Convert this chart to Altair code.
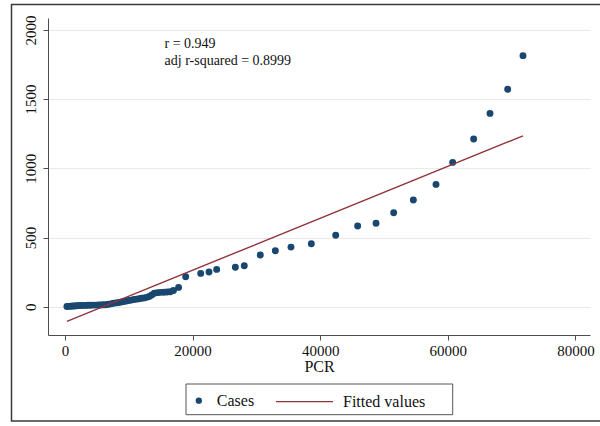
import altair as alt
import pandas as pd

# ---- data ----
pcr = [300, 600, 900, 1200, 1500, 1800, 2100, 2400, 2800, 3200, 3600, 4000, 4400, 4800,
       5200, 5600, 6000, 6400, 6800, 7200, 7600, 8000, 8400, 8800, 9200, 9600, 10000,
       10400, 10800, 11200, 11600, 12000, 12400, 12800, 13200, 13600, 14000, 14500,
       15000, 15500, 16000, 16500, 17000, 17800,
       18918, 21270, 22570, 23770, 26700, 28100, 30610, 32970, 35420, 38610, 42430,
       45870, 48750, 51520, 54600, 58150, 60763, 64054, 66614, 69385, 71787]
cases = [2, 3, 4, 5, 6, 7, 8, 9, 10, 10, 11, 11, 12, 12,
         13, 13, 14, 15, 18, 21, 25, 28, 31, 35, 38, 41, 45,
         48, 52, 55, 58, 61, 64, 68, 74, 85, 98, 102,
         104, 105, 106, 108, 118, 140,
         217, 241, 251, 270, 285, 296, 374, 405, 431, 455, 516,
         583, 603, 679, 771, 884, 1043, 1212, 1397, 1571, 1814]

fit_pcr = [300, 71787]
fit_values = [-105, 1235]

x_ticks = [0, 20000, 40000, 60000, 80000]
y_ticks = [0, 500, 1000, 1500, 2000]

note_lines = ["r = 0.949", "adj r-squared = 0.8999"]
note_x = [15600, 15600]
note_y = [1900, 1775]

FONT = "Liberation Serif"
NAVY = "#1a476f"
MAROON = "#90353b"
AXIS = "#4d4d4d"

pts = pd.DataFrame({"PCR": pcr, "Cases": cases, "series": ["Cases"] * len(pcr)})
fit = pd.DataFrame({"PCR": fit_pcr, "fitted": fit_values, "series": ["Fitted values"] * 2})
notes = pd.DataFrame({"x": note_x, "y": note_y, "t": note_lines})
one = pd.DataFrame({"a": [0]})

xscale = alt.Scale(domain=[-2665, 82288], nice=False, zero=False)
yscale = alt.Scale(domain=[-204, 2086], nice=False, zero=False)

xaxis = alt.Axis(values=x_ticks, format="d", title="PCR", grid=False, tickSize=5,
                 labelPadding=3, titlePadding=0, labelFontSize=15, titleFontSize=16,
                 titleFontWeight="normal", labelFont=FONT, titleFont=FONT,
                 labelColor="#111111", titleColor="#111111",
                 domainColor=AXIS, tickColor=AXIS, labelFlush=False)
yaxis = alt.Axis(values=y_ticks, format="d", title=None, grid=True, gridColor="#e9e9e9",
                 gridWidth=1, tickSize=5, labelAngle=270, labelAlign="center",
                 labelBaseline="bottom", labelPadding=5, labelFontSize=15, labelFont=FONT,
                 labelColor="#111111", domainColor=AXIS, tickColor=AXIS)

frame = alt.Chart(one).mark_rect(fill="transparent", stroke="#3a3a3a", strokeWidth=1.5).encode(
    x=alt.value(-36.5), x2=alt.value(600), y=alt.value(-13.4), y2=alt.value(403)
)
legend_box = alt.Chart(one).mark_rect(fill="white", stroke="#555555", strokeWidth=1).encode(
    x=alt.value(138), x2=alt.value(404.7), y=alt.value(366), y2=alt.value(396.7)
)

points = alt.Chart(pts).mark_circle(size=48, opacity=1).encode(
    x=alt.X("PCR:Q", scale=xscale, axis=xaxis),
    y=alt.Y("Cases:Q", scale=yscale, axis=yaxis),
    fill=alt.Fill("series:N", scale=alt.Scale(domain=["Cases"], range=[NAVY]),
                  legend=alt.Legend(title=None, orient="none", legendX=142.8, legendY=374.7,
                                    direction="horizontal", symbolType="circle", symbolSize=40,
                                    symbolStrokeWidth=0, labelFont=FONT, labelFontSize=16,
                                    labelColor="#111111", labelOffset=10, padding=0)),
)

line = alt.Chart(fit).mark_line(strokeWidth=1.4).encode(
    x=alt.X("PCR:Q", scale=xscale, axis=xaxis),
    y=alt.Y("fitted:Q", scale=yscale, axis=yaxis),
    stroke=alt.Stroke("series:N", scale=alt.Scale(domain=["Fitted values"], range=[MAROON]),
                      legend=alt.Legend(title=None, orient="none", legendX=227, legendY=354.2,
                                        direction="horizontal", symbolType="stroke",
                                        symbolSize=3249, symbolStrokeWidth=1.3,
                                        labelFont=FONT, labelFontSize=16, labelColor="#111111",
                                        labelOffset=9, padding=0)),
)

text = alt.Chart(notes).mark_text(align="left", baseline="middle", font=FONT, fontSize=14,
                                  color="#111111").encode(
    x=alt.X("x:Q", scale=xscale, axis=xaxis),
    y=alt.Y("y:Q", scale=yscale, axis=yaxis),
    text="t:N",
)

chart = alt.layer(frame, legend_box, points, line, text).resolve_scale(
    fill="independent", stroke="independent"
).properties(
    width=542, height=317,
    autosize=alt.AutoSizeParams(type="none"),
    padding={"left": 48, "top": 18, "right": 10, "bottom": 91},
    background="white",
).configure_view(stroke=None)

chart.save("out.html", embed_options={"renderer": "svg", "actions": False})
